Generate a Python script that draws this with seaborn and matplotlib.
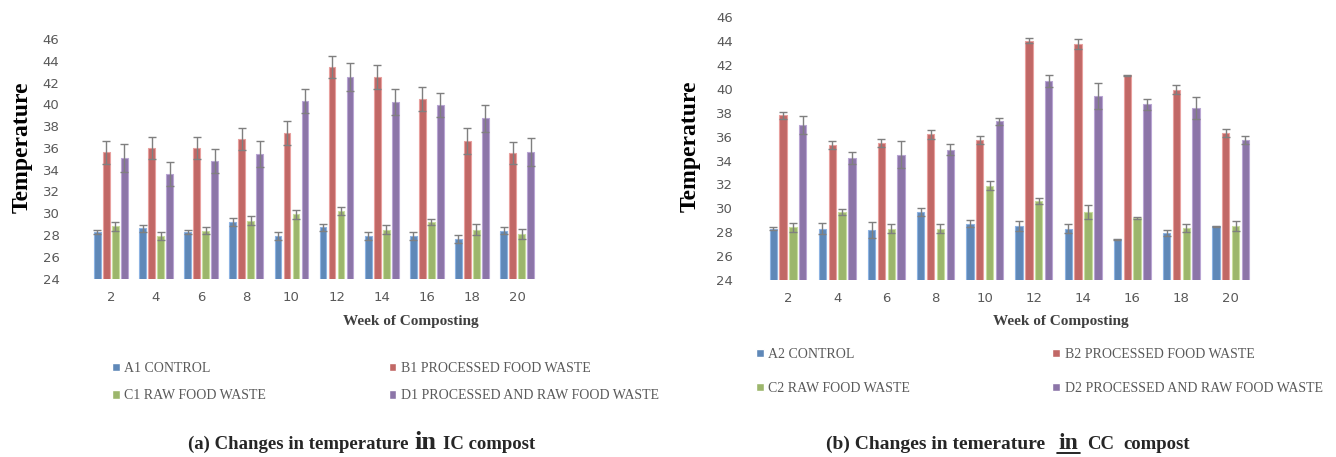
"""Compost temperature over weeks for IC and CC compost (two grouped bar panels)."""

import matplotlib.pyplot as plt
from matplotlib.lines import Line2D
import numpy as np
import pandas as pd
import seaborn as sns

sns.set_style("white")
plt.rcParams["font.family"] = ["DejaVu Sans"]

W, H = 1336, 457

weeks = [2, 4, 6, 8, 10, 12, 14, 16, 18, 20]
colors = ["#5087C7", "#D05A57", "#9FC35F", "#8B6DB0"]
edges = ["#8DB3E2", "#E8A09E", "#C8DE9E", "#B9A5D3"]

# (a) IC compost
ic_labels = ["A1 CONTROL", "B1 PROCESSED FOOD WASTE", "C1 RAW FOOD WASTE",
             "D1 PROCESSED AND RAW FOOD WASTE"]
ic_a1 = [28.3, 28.6, 28.3, 29.2, 27.9, 28.7, 27.9, 27.9, 27.6, 28.4]
ic_b1 = [35.6, 36.0, 36.0, 36.8, 37.4, 43.4, 42.5, 40.5, 36.6, 35.5]
ic_c1 = [28.8, 27.9, 28.4, 29.3, 29.9, 30.2, 28.5, 29.2, 28.5, 28.1]
ic_d1 = [35.1, 33.6, 34.8, 35.4, 40.3, 42.5, 40.2, 39.9, 38.7, 35.6]
ic_a1_err = [0.2, 0.3, 0.2, 0.35, 0.35, 0.3, 0.35, 0.35, 0.35, 0.3]
ic_b1_err = [1.05, 1.0, 1.0, 1.0, 1.1, 1.0, 1.1, 1.1, 1.2, 1.0]
ic_c1_err = [0.4, 0.4, 0.35, 0.4, 0.4, 0.4, 0.4, 0.25, 0.5, 0.45]
ic_d1_err = [1.3, 1.1, 1.1, 1.2, 1.1, 1.3, 1.2, 1.1, 1.2, 1.3]

# (b) CC compost
cc_labels = ["A2 CONTROL", "B2 PROCESSED FOOD WASTE", "C2 RAW FOOD WASTE",
             "D2 PROCESSED AND RAW FOOD WASTE"]
cc_a2 = [28.3, 28.3, 28.2, 29.7, 28.7, 28.5, 28.3, 27.4, 27.9, 28.5]
cc_b2 = [37.8, 35.3, 35.5, 36.2, 35.7, 44.05, 43.75, 41.15, 39.95, 36.3]
cc_c2 = [28.4, 29.7, 28.3, 28.3, 31.9, 30.6, 29.7, 29.2, 28.35, 28.5]
cc_d2 = [37.0, 34.2, 34.5, 34.9, 37.3, 40.7, 39.4, 38.7, 38.4, 35.75]
cc_a2_err = [0.15, 0.45, 0.65, 0.35, 0.3, 0.4, 0.35, 0.05, 0.25, 0.05]
cc_b2_err = [0.3, 0.3, 0.35, 0.35, 0.35, 0.2, 0.4, 0.05, 0.35, 0.35]
cc_c2_err = [0.4, 0.25, 0.35, 0.35, 0.35, 0.25, 0.55, 0.05, 0.3, 0.4]
cc_d2_err = [0.75, 0.5, 1.1, 0.45, 0.3, 0.5, 1.1, 0.45, 0.9, 0.35]

TICK_GRAY = "#595959"
SERIF = ["Liberation Serif", "DejaVu Serif"]


def px(x, y):
    return x / W, 1 - y / H


def draw_panel(ax, labels, series, errs, ylabel_pos, legend_kw):
    df = pd.DataFrame({
        "week": np.tile(weeks, len(labels)),
        "temp": np.concatenate(series),
        "group": np.repeat(labels, len(weeks)),
    })
    sns.barplot(data=df, x="week", y="temp", hue="group", hue_order=labels,
                palette=colors, width=0.8, gap=0.25, errorbar=None, ax=ax)
    for cont, err, ec in zip(ax.containers, errs, edges):
        xs, ys = [], []
        for bar in cont:
            bar.set_edgecolor(ec)
            bar.set_linewidth(0.8)
            xs.append(bar.get_x() + bar.get_width() / 2)
            ys.append(bar.get_height())
        ax.errorbar(xs, ys, yerr=err, fmt="none", ecolor="#7F7F7F",
                    elinewidth=1.0, capsize=3, capthick=1.0, zorder=3)

    ax.set_ylim(24, 46)
    ax.set_yticks(range(24, 47, 2))
    for s in ax.spines.values():
        s.set_visible(False)
    ax.tick_params(axis="both", length=0, labelsize=9.5, labelcolor=TICK_GRAY)
    ax.tick_params(axis="x", pad=9)
    ax.tick_params(axis="y", pad=9)
    ax.set_xlabel("")
    ax.set_ylabel("Temperature", family=SERIF, fontweight="bold", fontsize=17,
                  color="black")
    ax.yaxis.set_label_coords(*ylabel_pos)

    # Excel fills the legend row by row: A B / C D
    handles, names = ax.get_legend_handles_labels()
    order = [0, 2, 1, 3]
    ax.get_legend().remove()
    leg = ax.legend([handles[i] for i in order], [names[i] for i in order],
                    loc="center left", ncol=2, frameon=False,
                    bbox_transform=fig.transFigure, borderaxespad=0,
                    borderpad=0, handlelength=0.55, handleheight=0.55,
                    handletextpad=0.35,
                    prop={"family": SERIF, "size": 10}, **legend_kw)
    for t in leg.get_texts():
        t.set_color(TICK_GRAY)


fig = plt.figure(figsize=(W / 100, H / 100), dpi=100)
ax1 = fig.add_axes([72 / W, 1 - 278.5 / H, 484 / W, 239.5 / H])
ax2 = fig.add_axes([745.6 / W, 1 - 280 / H, 527.4 / W, 262.7 / H])

draw_panel(ax1, ic_labels, [ic_a1, ic_b1, ic_c1, ic_d1],
           [ic_a1_err, ic_b1_err, ic_c1_err, ic_d1_err], (-0.082, 0.55),
           dict(bbox_to_anchor=px(112, 382), columnspacing=8.8,
                labelspacing=1.06))
draw_panel(ax2, cc_labels, [cc_a2, cc_b2, cc_c2, cc_d2],
           [cc_a2_err, cc_b2_err, cc_c2_err, cc_d2_err], (-0.086, 0.51),
           dict(bbox_to_anchor=px(756, 371.5), columnspacing=10.2,
                labelspacing=1.52))

# x-axis titles
fig.text(*px(411, 322), "Week of Composting", ha="center", va="center",
         family=SERIF, fontweight="bold", fontsize=11, color="#404040")
fig.text(*px(1061, 322), "Week of Composting", ha="center", va="center",
         family=SERIF, fontweight="bold", fontsize=11, color="#404040")

# captions
base = 449
cap = dict(family=SERIF, fontweight="bold", va="baseline", ha="left")
fig.text(*px(188, base), "(a) Changes in temperature", fontsize=13.5, **cap)
fig.text(*px(414, base), "in", fontsize=19, **cap)
fig.text(*px(443, base), "IC compost", fontsize=13.5, **cap)

fig.text(*px(826, base), "(b) Changes in temerature", fontsize=14, **cap)
fig.text(*px(1058, base), "in", fontsize=17, **cap)
fig.text(*px(1087, base), "CC", fontsize=13.5, **cap)
fig.text(*px(1123, base), "compost", fontsize=13.5, **cap)
x0, y0 = px(1057, 453)
x1, _ = px(1080, 453)
fig.add_artist(Line2D([x0, x1], [y0, y0], color="black", linewidth=1.2,
                      transform=fig.transFigure))

fig.savefig("out.png", dpi=100)
plt.close(fig)
